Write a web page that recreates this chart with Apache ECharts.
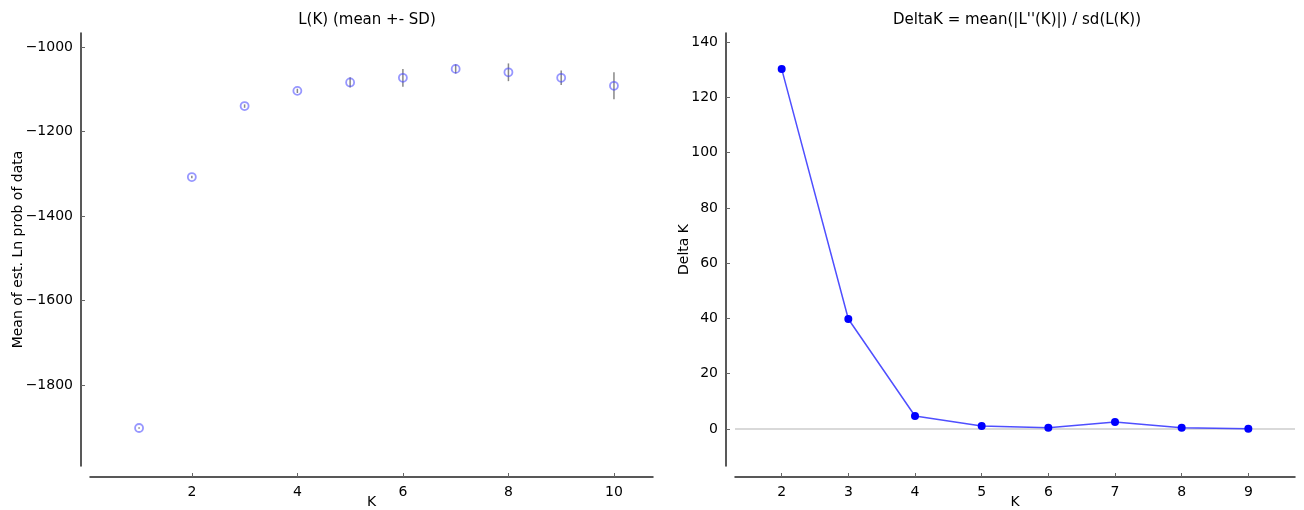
<!DOCTYPE html>
<html lang="en">
<head>
  <meta charset="UTF-8">
  <title>Evanno K</title>
  <script src="https://cdn.jsdelivr.net/npm/echarts@6/dist/echarts.min.js"></script>
</head>
<body style="margin:0">
<div id="main" style="width:1304px;height:510px"></div>
<script>
  // L(K): mean and SD per K
  var kValues = [1, 2, 3, 4, 5, 6, 7, 8, 9, 10];
  var lnMean = [-1902, -1308, -1140, -1104, -1084, -1073, -1052, -1060, -1073, -1092];
  var lnSD = [2, 3, 4, 5, 12, 21, 11, 21, 17, 32];
  // Delta K
  var deltaK = [2, 3, 4, 5, 6, 7, 8, 9];
  var deltaVal = [130.3, 39.8, 4.7, 1.1, 0.4, 2.5, 0.4, 0.1];
  var leftXTicks = [2, 4, 6, 8, 10];
  var leftYTicks = [-1800, -1600, -1400, -1200, -1000];
  var rightXTicks = [2, 3, 4, 5, 6, 7, 8, 9];
  var rightYTicks = [0, 20, 40, 60, 80, 100, 120, 140];

  var font = 'DejaVu Sans';
  var meanPts = kValues.map(function (k, i) { return [k, lnMean[i]]; });
  var barPts = kValues.map(function (k, i) { return [k, lnMean[i] - lnSD[i], lnMean[i] + lnSD[i]]; });
  var deltaPts = deltaK.map(function (k, i) { return [k, deltaVal[i]]; });

  function minus(v) { return String(v).replace('-', '\u2212'); }

  function axisX(grid, min, max, ticks) {
    return {
      type: 'value', gridIndex: grid, min: min, max: max, offset: 11,
      name: 'K', nameLocation: 'middle', nameGap: 18, nameMoveOverlap: false,
      nameTextStyle: { fontFamily: font, fontSize: 14, color: '#000' },
      splitLine: { show: false },
      axisLine: { onZero: false, lineStyle: { color: '#222', width: 1.5 } },
      axisTick: { inside: true, length: 4, lineStyle: { color: '#666' }, customValues: ticks },
      axisLabel: { fontFamily: font, fontSize: 14, color: '#000', margin: 8, customValues: ticks, formatter: minus }
    };
  }
  function axisY(grid, min, max, ticks, name, gap) {
    return {
      type: 'value', gridIndex: grid, min: min, max: max, offset: 9,
      name: name, nameLocation: 'middle', nameGap: gap, nameMoveOverlap: false,
      nameTextStyle: { fontFamily: font, fontSize: 14, color: '#000' },
      splitLine: { show: false },
      axisLine: { show: true, onZero: false, lineStyle: { color: '#222', width: 1.5 } },
      axisTick: { show: true, inside: true, length: 4, lineStyle: { color: '#666' }, customValues: ticks },
      axisLabel: { fontFamily: font, fontSize: 14, color: '#000', margin: 8, customValues: ticks, formatter: minus }
    };
  }

  var myChart = echarts.init(document.getElementById('main'));
  var option = {
    animation: false,
    backgroundColor: '#fff',
    title: [
      { text: 'L(K) (mean +- SD)', left: 362, top: 8, textAlign: 'center',
        textStyle: { fontFamily: font, fontSize: 15, fontWeight: 'normal', color: '#000' } },
      { text: "DeltaK = mean(|L''(K)|) / sd(L(K))", left: 1012, top: 8, textAlign: 'center',
        textStyle: { fontFamily: font, fontSize: 15, fontWeight: 'normal', color: '#000' } }
    ],
    grid: [
      { left: 90, right: 651, top: 33, bottom: 44, containLabel: false, outerBoundsMode: 'none' },
      { left: 735, right: 9, top: 33, bottom: 44, containLabel: false, outerBoundsMode: 'none' }
    ],
    xAxis: [
      axisX(0, 0.07, 10.74, leftXTicks),
      axisX(1, 1.3, 9.7, rightXTicks)
    ],
    yAxis: [
      axisY(0, -1992, -967, leftYTicks, 'Mean of est. Ln prob of data', 56),
      axisY(1, -13.4, 143.3, rightYTicks, 'Delta K', 35)
    ],
    series: [
      {
        type: 'custom', xAxisIndex: 0, yAxisIndex: 0, data: barPts,
        renderItem: function (params, api) {
          var a = api.coord([api.value(0), api.value(1)]);
          var b = api.coord([api.value(0), api.value(2)]);
          return { type: 'line', shape: { x1: a[0], y1: a[1], x2: b[0], y2: b[1] },
            style: { stroke: '#888', lineWidth: 1.5 } };
        }
      },
      {
        type: 'scatter', xAxisIndex: 0, yAxisIndex: 0, data: meanPts,
        symbol: 'circle', symbolSize: 8,
        itemStyle: { color: 'rgba(255,255,255,0)', borderColor: 'rgba(70,70,255,0.7)', borderWidth: 1.8 }
      },
      {
        type: 'line', xAxisIndex: 1, yAxisIndex: 1, data: deltaPts,
        symbol: 'circle', symbolSize: 8, z: 3,
        itemStyle: { color: '#0000ff' },
        lineStyle: { color: 'rgba(60,60,255,0.9)', width: 1.5 },
        markLine: {
          silent: true, symbol: 'none', label: { show: false }, z: 1,
          lineStyle: { color: '#ccc', width: 1.5, type: 'solid' },
          data: [{ yAxis: 0 }]
        }
      }
    ]
  };
  myChart.setOption(option);
</script>
</body>
</html>
